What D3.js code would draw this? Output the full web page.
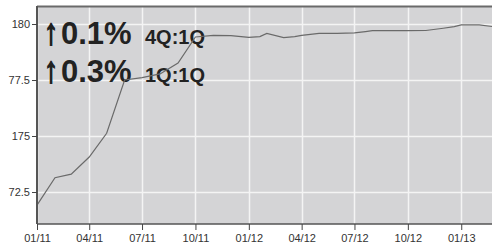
<!DOCTYPE html>
<html>
<head>
<meta charset="utf-8">
<script src="https://cdn.jsdelivr.net/npm/d3@7"></script>
<style>
html,body{margin:0;padding:0;background:#fff;}
svg{display:block;}
</style>
</head>
<body>
<svg id="chart" width="492" height="246"></svg>
<script>
// ---- data ----
const dates = ["2011-01-01","2011-02-01","2011-03-01","2011-04-01","2011-05-01","2011-06-01","2011-07-01","2011-08-01","2011-09-01","2011-10-01","2011-11-01","2011-12-01",
  "2012-01-01","2012-01-20","2012-02-01","2012-03-01","2012-03-20","2012-04-01","2012-05-01","2012-06-01","2012-07-01","2012-07-20","2012-08-01","2012-09-01","2012-10-01","2012-11-01","2012-12-01","2012-12-20","2013-01-01","2013-02-01","2013-03-01"];
const values = [171.91,173.14,173.30,174.06,175.12,177.50,177.61,177.77,178.26,179.42,179.49,179.48,
  179.40,179.44,179.58,179.39,179.44,179.49,179.58,179.58,179.60,179.66,179.70,179.70,179.70,179.71,179.81,179.88,179.96,179.96,179.87];
const yTickValues = [172.5,175,177.5,180];
const yTickLabels = ["72.5","175","77.5","180"];
const xTickDates = ["2011-01-01","2011-04-01","2011-07-01","2011-10-01","2012-01-01","2012-04-01","2012-07-01","2012-10-01","2013-01-01"];
const xTickLabels = ["01/11","04/11","07/11","10/11","01/12","04/12","07/12","10/12","01/13"];
const headlines = [{arrow:"\u2191", big:"0.1%", small:"4Q:1Q"},{arrow:"\u2191", big:"0.3%", small:"1Q:1Q"}];

// ---- layout ----
const svg = d3.select("#chart");
const pL = 37, pR = 492, pT = 6, pB = 224;
const parse = d3.utcParse("%Y-%m-%d");
const x = d3.scaleUtc().domain([parse("2011-01-01"), parse("2013-02-23")]).range([pL, pR]);
const y = d3.scaleLinear().domain([172.5, 180]).range([192, 24]);

svg.append("defs").append("clipPath").attr("id","clip")
  .append("rect").attr("x",pL).attr("y",pT).attr("width",pR-pL).attr("height",pB-pT);

// background
svg.append("rect").attr("x",pL).attr("y",pT).attr("width",pR-pL).attr("height",pB-pT)
  .attr("fill","#d4d4d6");

// grid
const grid = svg.append("g").attr("clip-path","url(#clip)");
grid.selectAll(".gx").data(xTickDates).join("line")
  .attr("x1",d=>Math.round(x(parse(d)))+0.5).attr("x2",d=>Math.round(x(parse(d)))+0.5)
  .attr("y1",pT).attr("y2",pB).attr("stroke","#f4f4f4").attr("stroke-width",1.5);
grid.selectAll(".gy").data(yTickValues).join("line")
  .attr("y1",d=>Math.round(y(d))+0.5).attr("y2",d=>Math.round(y(d))+0.5)
  .attr("x1",pL).attr("x2",pR).attr("stroke","#f4f4f4").attr("stroke-width",1.5);

// headline text
const ht = svg.append("g").attr("fill","#222").attr("font-family","'Liberation Sans', Arial, sans-serif").attr("font-weight","bold");
headlines.forEach((h,i)=>{
  const by = 44 + i*38;
  ht.append("text").attr("transform",`translate(44,${by}) scale(1,1.3)`)
    .attr("font-size",28).attr("stroke","#222").attr("stroke-width",1.3).text(h.arrow);
  ht.append("text").attr("x",61).attr("y",by).attr("font-size",31).text(h.big);
  ht.append("text").attr("x",145).attr("y",by).attr("font-size",20).text(h.small);
});

// line
const pts = dates.map((d,i)=>({d:parse(d), v:values[i]}));
svg.append("path").datum(pts).attr("clip-path","url(#clip)")
  .attr("fill","none").attr("stroke","#6a6a6a").attr("stroke-width",1.2)
  .attr("d", d3.line().x(p=>x(p.d)).y(p=>y(p.v)));

// frame: top border
svg.append("line").attr("x1",pL).attr("x2",pR).attr("y1",pT+0.5).attr("y2",pT+0.5)
  .attr("stroke","#6a6a6a").attr("stroke-width",2);

// axes
const yAxis = d3.axisLeft(y).tickValues(yTickValues).tickSize(5).tickPadding(2)
  .tickFormat((d,i)=>yTickLabels[i]);
const gy = svg.append("g").attr("transform",`translate(${pL},0)`).call(yAxis);
gy.select(".domain").attr("d",`M0,${pT}V${pB}`).attr("stroke","#555").attr("stroke-width",2);

const xAxis = d3.axisBottom(x).tickValues(xTickDates.map(parse)).tickSize(6).tickPadding(4)
  .tickFormat((d,i)=>xTickLabels[i]);
const gx = svg.append("g").attr("transform",`translate(0,${pB})`).call(xAxis);
gx.select(".domain").attr("d",`M${pL},0H${pR}`).attr("stroke","#555").attr("stroke-width",1.5);

svg.selectAll(".tick line").attr("stroke","#444");
svg.selectAll(".tick text").attr("fill","#333").attr("font-size",11)
  .attr("font-family","'Liberation Sans', Arial, sans-serif");
</script>
</body>
</html>
